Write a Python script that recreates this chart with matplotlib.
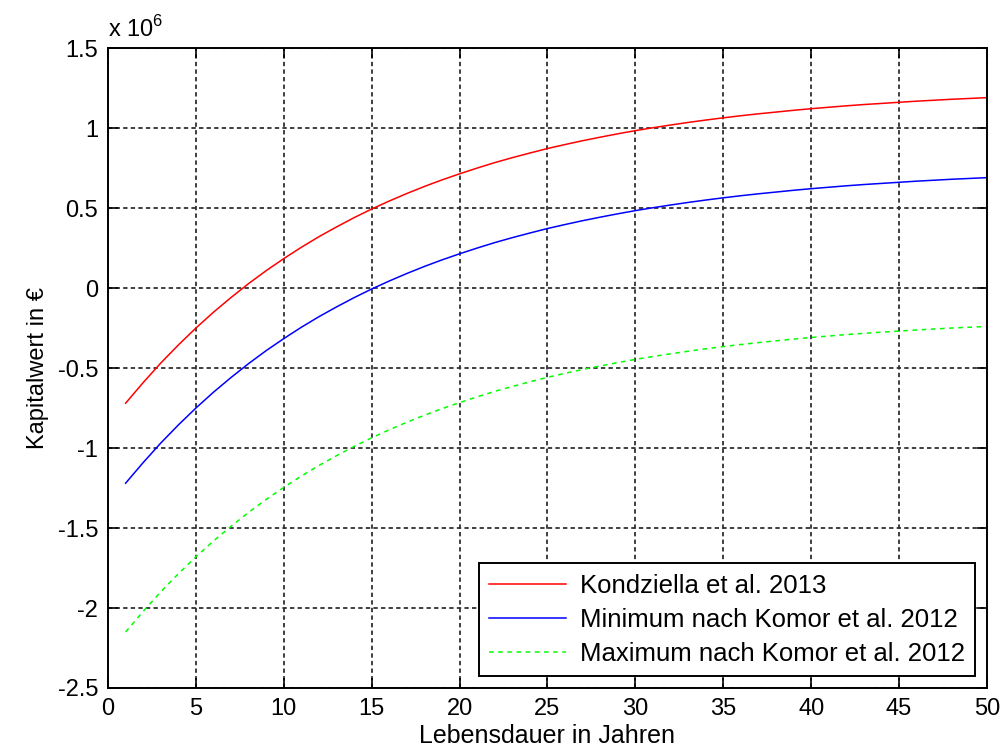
import matplotlib.pyplot as plt

plt.rcParams['font.family'] = ['Liberation Sans', 'DejaVu Sans']
plt.rcParams['mathtext.fontset'] = 'custom'
plt.rcParams['mathtext.rm'] = 'Liberation Sans'

# Lebensdauer in Jahren
years = list(range(1, 51))

# Kapitalwert in Mio. EUR
kondziella = [
    -0.720, -0.591, -0.469, -0.356, -0.250, -0.151, -0.059, 0.028, 0.109, 0.184,
    0.255, 0.321, 0.382, 0.440, 0.494, 0.544, 0.591, 0.635, 0.676, 0.714,
    0.750, 0.784, 0.815, 0.844, 0.872, 0.897, 0.921, 0.943, 0.964, 0.984,
    1.002, 1.019, 1.035, 1.050, 1.064, 1.077, 1.089, 1.100, 1.111, 1.121,
    1.130, 1.139, 1.147, 1.154, 1.161, 1.168, 1.174, 1.180, 1.185, 1.190,
]
komor_min = [
    -1.220, -1.091, -0.969, -0.856, -0.750, -0.651, -0.559, -0.472, -0.391, -0.316,
    -0.245, -0.179, -0.118, -0.060, -0.006, 0.044, 0.091, 0.135, 0.176, 0.214,
    0.250, 0.284, 0.315, 0.344, 0.372, 0.397, 0.421, 0.443, 0.464, 0.484,
    0.502, 0.519, 0.535, 0.550, 0.564, 0.577, 0.589, 0.600, 0.611, 0.621,
    0.630, 0.639, 0.647, 0.654, 0.661, 0.668, 0.674, 0.680, 0.685, 0.690,
]
komor_max = [
    -2.150, -2.021, -1.899, -1.786, -1.680, -1.581, -1.489, -1.402, -1.321, -1.246,
    -1.175, -1.109, -1.048, -0.990, -0.936, -0.886, -0.839, -0.795, -0.754, -0.716,
    -0.680, -0.646, -0.615, -0.586, -0.558, -0.533, -0.509, -0.487, -0.466, -0.446,
    -0.428, -0.411, -0.395, -0.380, -0.366, -0.353, -0.341, -0.330, -0.319, -0.309,
    -0.300, -0.291, -0.283, -0.276, -0.269, -0.262, -0.256, -0.250, -0.245, -0.240,
]

labels = [
    "Kondziella et al. 2013",
    "Minimum nach Komor et al. 2012",
    "Maximum nach Komor et al. 2012",
]

fig = plt.figure(figsize=(10.02, 7.51), dpi=100)
ax = fig.add_axes([0.1078, 0.0839, 0.8772, 0.8521])

ax.plot(years, kondziella, color="#ff0000", lw=1.1, label=labels[0])
ax.plot(years, komor_min, color="#0000ff", lw=1.1, label=labels[1])
ax.plot(years, komor_max, color="#00ff00", lw=1.1, ls=(0, (3, 3)), label=labels[2])

ax.set_xlim(0, 50)
ax.set_ylim(-2.5, 1.5)
ax.set_xticks(range(0, 51, 5))
ax.set_yticks([-2.5, -2, -1.5, -1, -0.5, 0, 0.5, 1, 1.5])
ax.set_yticklabels(["-2.5", "-2", "-1.5", "-1", "-0.5", "0", "0.5", "1", "1.5"])

ax.grid(True, color="#303030", ls=(0, (2.4, 1.8)), lw=1.3)
ax.tick_params(direction="in", top=True, right=True, length=7, width=1.2,
               labelsize=17, pad=7)
for s in ax.spines.values():
    s.set_linewidth(1.4)

ax.set_xlabel("Lebensdauer in Jahren", fontsize=18, labelpad=3)
ax.set_ylabel("Kapitalwert in €", fontsize=17, labelpad=6)

ax.text(0.0, 1.01, r"x 10$^{6}$", transform=ax.transAxes, fontsize=17,
        ha="left", va="bottom")

leg = ax.legend(loc="lower right", fontsize=18.5, fancybox=False, framealpha=1,
                edgecolor="black", handlelength=3.0, handletextpad=0.55,
                borderaxespad=0.45, labelspacing=0.4, borderpad=0.4)
leg.get_frame().set_linewidth(1.4)

fig.savefig("out.png", dpi=100)
